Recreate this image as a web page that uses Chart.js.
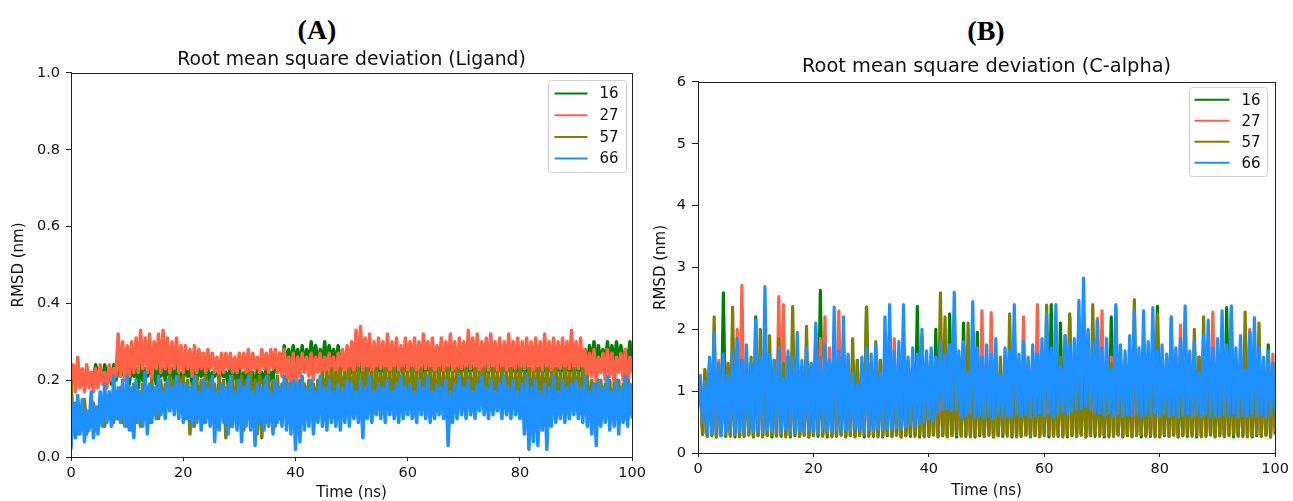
<!DOCTYPE html>
<html>
<head>
<meta charset="utf-8">
<title>RMSD</title>
<script src="https://cdn.jsdelivr.net/npm/chart.js@4.4.1/dist/chart.umd.min.js"></script>
<style>
  html, body { margin: 0; padding: 0; background: #fff; }
  body { width: 1293px; height: 501px; position: relative; overflow: hidden; }
  canvas { position: absolute; top: 0; }
  #chartA { left: 0; }
  #chartB { left: 646px; }
  .tag {
    position: absolute; transform: translate(-50%, -50%);
    font-family: "Liberation Serif", serif; font-weight: bold; font-size: 28px; line-height: 1;
    color: #000; white-space: nowrap;
  }
</style>
</head>
<body>
<div class="tag" style="left:317px; top:29.5px">(A)</div>
<div class="tag" style="left:986px; top:30.5px">(B)</div>
<canvas id="chartA" width="650" height="501"></canvas>
<canvas id="chartB" width="647" height="501"></canvas>
<script>
// frame times: one sample every 0.4 ns, 0 .. 100 ns
const timeNs = Array.from({ length: 251 }, (_, i) => i * 0.4);
const timeTicks = [0, 20, 40, 60, 80, 100];
const ligandTicks = [0, 0.2, 0.4, 0.6, 0.8, 1.0];
const calphaTicks = [0, 1, 2, 3, 4, 5, 6];

const seriesLabels = ['16', '27', '57', '66'];
const seriesColors = ['#008000', '#ff6347', '#808000', '#1e90ff'];

// (A) ligand RMSD, nm (one row = 10 ns)
const lig16 = [
  .20,.23,.19,.24,.20,.22,.19,.23,.21,.22,.20,.24,.21,.23,.20,.24,.21,.23,.19,.24,.20,.23,.21,.24,.20,
  .23,.19,.24,.21,.23,.18,.24,.20,.23,.21,.25,.20,.23,.19,.24,.21,.23,.20,.24,.21,.23,.19,.24,.20,.22,
  .20,.24,.21,.23,.19,.24,.20,.23,.21,.24,.20,.23,.19,.22,.21,.24,.20,.23,.21,.22,.19,.24,.20,.23,.19,
  .23,.18,.22,.17,.23,.19,.22,.16,.23,.19,.22,.18,.24,.19,.22,.20,.26,.22,.27,.23,.29,.24,.28,.23,.29,
  .24,.28,.23,.29,.24,.28,.23,.30,.25,.29,.24,.28,.23,.30,.24,.29,.25,.28,.23,.29,.24,.27,.22,.26,.21,
  .25,.21,.26,.22,.25,.20,.26,.21,.25,.22,.26,.21,.25,.22,.24,.21,.26,.22,.25,.21,.24,.22,.26,.21,.25,
  .22,.26,.21,.25,.22,.26,.20,.25,.22,.26,.21,.25,.22,.24,.21,.26,.22,.25,.21,.26,.22,.25,.21,.24,.22,
  .26,.21,.25,.22,.26,.21,.25,.22,.26,.20,.25,.22,.26,.21,.25,.22,.26,.21,.25,.22,.26,.21,.25,.22,.24,
  .21,.25,.22,.24,.21,.26,.22,.25,.21,.26,.22,.25,.21,.26,.22,.25,.21,.26,.22,.25,.21,.26,.22,.25,.21,
  .26,.22,.25,.21,.28,.23,.29,.24,.30,.23,.29,.24,.28,.23,.30,.24,.29,.23,.30,.24,.29,.23,.28,.24,.30,
  .24
];
const lig27 = [
  .18,.24,.17,.26,.18,.23,.17,.24,.18,.22,.17,.23,.18,.24,.19,.22,.18,.24,.20,.23,.21,.32,.21,.30,.20,
  .29,.21,.30,.22,.31,.22,.33,.23,.31,.22,.32,.20,.30,.23,.32,.22,.33,.23,.31,.22,.30,.23,.31,.22,.29,
  .22,.29,.23,.28,.21,.29,.22,.28,.23,.27,.22,.28,.23,.27,.22,.26,.21,.27,.22,.27,.23,.27,.22,.26,.22,
  .27,.23,.27,.22,.28,.21,.27,.23,.26,.22,.28,.23,.27,.22,.28,.23,.28,.22,.27,.21,.28,.20,.26,.17,.27,
  .16,.26,.21,.27,.22,.26,.21,.27,.20,.26,.22,.27,.21,.26,.22,.27,.21,.26,.18,.27,.22,.28,.21,.29,.22,
  .30,.22,.33,.23,.34,.22,.31,.23,.32,.21,.30,.22,.31,.23,.30,.22,.32,.21,.30,.23,.31,.22,.29,.23,.31,
  .22,.30,.23,.31,.21,.30,.22,.32,.23,.30,.22,.31,.21,.29,.23,.31,.22,.30,.23,.32,.22,.30,.21,.31,.23,
  .30,.22,.33,.23,.31,.22,.32,.21,.30,.23,.31,.22,.32,.23,.30,.22,.31,.23,.30,.22,.32,.21,.30,.23,.31,
  .22,.30,.23,.31,.22,.30,.21,.31,.23,.30,.22,.32,.23,.30,.22,.31,.21,.30,.23,.31,.22,.30,.23,.33,.22,
  .30,.23,.31,.22,.28,.20,.27,.21,.28,.19,.26,.22,.27,.20,.28,.21,.27,.19,.26,.22,.27,.20,.28,.17,.26,
  .22
];
const lig57 = [
  .20,.08,.14,.06,.13,.07,.15,.06,.12,.08,.14,.07,.13,.09,.15,.08,.14,.10,.15,.09,.16,.10,.18,.09,.17,
  .08,.18,.07,.19,.09,.17,.08,.19,.10,.18,.09,.20,.11,.18,.10,.20,.12,.19,.15,.21,.14,.20,.16,.21,.15,
  .21,.10,.20,.06,.19,.08,.21,.11,.20,.09,.21,.12,.20,.10,.19,.08,.21,.11,.20,.05,.19,.08,.21,.10,.20,
  .09,.21,.07,.20,.10,.22,.08,.20,.06,.21,.05,.20,.09,.21,.10,.20,.08,.21,.10,.19,.11,.20,.09,.19,.10,
  .19,.11,.20,.10,.19,.12,.20,.11,.19,.12,.20,.13,.22,.14,.22,.15,.23,.14,.22,.15,.23,.14,.22,.16,.23,
  .14,.22,.15,.23,.13,.22,.14,.23,.15,.22,.13,.23,.14,.22,.15,.23,.14,.22,.13,.23,.15,.22,.14,.23,.15,
  .22,.14,.23,.15,.22,.13,.23,.14,.22,.15,.23,.14,.22,.12,.23,.14,.22,.15,.23,.13,.22,.14,.23,.15,.22,
  .14,.23,.15,.22,.13,.23,.14,.22,.15,.23,.14,.22,.13,.23,.15,.22,.14,.23,.15,.22,.14,.23,.13,.22,.15,
  .23,.14,.22,.15,.23,.13,.22,.14,.23,.15,.22,.14,.23,.13,.22,.15,.23,.14,.22,.13,.23,.15,.22,.14,.23,
  .15,.22,.14,.23,.12,.21,.11,.20,.13,.19,.10,.20,.12,.19,.11,.20,.10,.19,.12,.20,.11,.19,.10,.20,.12,
  .19
];
const lig66 = [
  .02,.14,.05,.16,.06,.15,.04,.12,.07,.17,.05,.13,.06,.17,.08,.19,.09,.17,.08,.21,.10,.18,.09,.20,.08,
  .21,.07,.18,.05,.20,.09,.17,.08,.22,.06,.19,.09,.18,.10,.21,.11,.17,.10,.20,.12,.18,.11,.21,.10,.19,
  .09,.19,.10,.18,.08,.21,.09,.17,.07,.20,.09,.18,.08,.21,.04,.17,.07,.19,.09,.18,.06,.21,.08,.17,.07,
  .20,.04,.18,.08,.21,.07,.17,.03,.19,.09,.18,.07,.21,.08,.17,.06,.20,.09,.18,.08,.21,.07,.19,.06,.20,
  .02,.19,.04,.21,.07,.18,.08,.20,.06,.17,.09,.21,.08,.18,.07,.20,.09,.17,.08,.19,.07,.18,.09,.20,.08,
  .19,.10,.17,.09,.20,.05,.18,.10,.21,.09,.17,.11,.19,.10,.18,.09,.20,.11,.17,.10,.19,.09,.21,.10,.18,
  .11,.19,.10,.17,.09,.20,.11,.18,.10,.21,.09,.17,.10,.19,.11,.18,.10,.20,.03,.17,.09,.19,.10,.21,.11,
  .18,.10,.20,.11,.17,.10,.19,.12,.21,.11,.18,.10,.20,.11,.17,.12,.19,.10,.21,.11,.18,.10,.20,.11,.17,
  .10,.19,.06,.21,.02,.18,.04,.20,.03,.17,.07,.19,.02,.18,.08,.21,.09,.17,.10,.20,.09,.18,.10,.19,.11,
  .20,.10,.18,.09,.21,.08,.17,.06,.19,.03,.20,.08,.18,.09,.21,.07,.17,.08,.20,.06,.18,.09,.21,.08,.19,
  .10
];

// (B) C-alpha RMSD, nm (one row = 10 ns)
const ca16 = [
  .80,1.10,.30,1.30,.27,1.45,.28,1.20,.26,1.35,.28,2.59,.27,1.40,.29,1.25,.26,1.50,.28,2.30,.27,1.35,.29,1.45,.26,
  2.20,.28,1.30,.27,1.45,.29,1.25,.26,1.50,.28,1.90,.27,1.35,.29,1.40,.26,1.30,.28,1.55,.27,1.20,.29,1.45,.26,1.35,
  .28,2.00,.27,2.63,.29,1.40,.26,1.30,.28,1.55,.27,1.25,.29,1.40,.26,1.35,.28,1.50,.27,1.20,.29,1.45,.26,2.36,.28,
  1.40,.27,1.30,.29,1.50,.26,1.35,.28,1.95,.27,1.25,.29,1.40,.26,1.55,.28,1.30,.27,1.45,.29,2.37,.26,1.35,.28,1.50,
  .27,1.40,.29,2.00,.26,1.45,.28,1.30,.27,2.25,.29,1.40,.26,1.55,.28,2.10,.27,1.35,.29,1.45,.26,1.95,.28,1.30,.27,
  1.50,.29,1.35,.26,1.45,.28,1.30,.27,1.55,.29,1.40,.26,1.35,.28,1.50,.27,1.45,.29,1.30,.26,1.40,.28,1.55,.27,1.35,
  .29,1.45,.26,2.40,.28,1.35,.27,2.10,.29,1.50,.26,2.20,.28,1.40,.27,1.55,.29,1.45,.26,1.60,.28,1.40,.27,1.50,.29,
  1.35,.26,1.45,.28,2.20,.27,1.40,.29,1.30,.26,1.50,.28,1.35,.27,1.45,.29,1.55,.26,1.40,.28,1.35,.27,1.50,.29,2.37,
  .26,1.45,.28,1.35,.27,1.50,.29,1.40,.26,1.30,.28,2.10,.27,1.45,.29,1.35,.26,1.55,.28,1.40,.27,1.50,.29,1.35,.26,
  1.45,.28,1.30,.27,2.35,.29,1.40,.26,1.50,.28,1.35,.27,1.45,.29,1.95,.26,1.40,.28,1.55,.27,1.35,.29,1.75,.26,1.45,
  .30
];
const ca27 = [
  .85,1.20,.32,1.35,.29,1.40,.31,1.25,.28,1.50,.30,1.35,.32,1.45,.29,1.60,.31,2.00,.28,2.71,.30,1.45,.32,1.30,.29,
  1.50,.31,1.35,.28,1.45,.30,1.60,.32,1.40,.29,2.53,.31,2.40,.28,1.55,.30,1.35,.32,1.45,.29,1.30,.31,1.50,.28,1.40,
  .30,1.55,.32,1.85,.29,2.20,.31,1.70,.28,1.45,.30,2.30,.32,1.40,.29,1.55,.31,1.35,.28,1.50,.30,1.40,.32,1.30,.29,
  1.45,.31,1.35,.28,1.50,.30,1.40,.32,1.30,.29,1.85,.31,1.45,.28,1.55,.30,1.35,.32,1.50,.29,1.40,.31,1.90,.28,1.45,
  .30,1.60,.32,1.45,.29,1.55,.31,2.00,.28,1.40,.30,1.50,.32,1.35,.29,1.45,.31,1.55,.28,1.40,.30,1.50,.32,2.30,.29,
  1.45,.31,2.27,.28,1.50,.30,1.40,.32,1.55,.29,1.45,.31,1.35,.28,1.50,.30,2.20,.32,1.45,.29,1.55,.31,2.40,.28,1.40,
  .30,1.50,.32,1.45,.29,1.55,.31,1.40,.28,1.90,.30,1.50,.32,1.45,.29,1.60,.31,1.50,.28,1.45,.30,1.55,.32,2.18,.29,
  2.30,.31,1.45,.28,1.55,.30,1.40,.32,1.50,.29,1.45,.31,1.55,.28,1.40,.30,1.50,.32,1.45,.29,1.55,.31,1.40,.28,1.50,
  .30,1.45,.32,1.55,.29,2.20,.31,1.45,.28,2.07,.30,1.90,.32,1.50,.29,1.45,.31,1.55,.28,1.40,.30,1.50,.32,2.28,.29,
  1.45,.31,1.55,.28,1.40,.30,2.28,.32,1.50,.29,1.45,.31,1.55,.28,2.00,.30,1.45,.32,1.50,.29,1.40,.31,1.55,.28,1.60,
  .35
];
const ca57 = [
  .90,1.15,.30,1.35,.27,1.50,.29,2.20,.26,1.40,.28,1.55,.30,1.45,.27,2.36,.29,1.35,.26,1.50,.28,1.40,.30,1.55,.27,
  1.45,.29,2.00,.26,1.50,.28,1.90,.30,1.40,.27,1.85,.29,1.45,.26,1.55,.28,2.37,.30,1.50,.27,1.40,.29,2.05,.26,1.45,
  .28,1.50,.30,1.40,.27,1.55,.29,1.45,.26,1.50,.28,1.40,.30,1.55,.27,1.45,.29,1.85,.26,1.50,.28,1.40,.30,2.36,.27,
  1.45,.29,1.80,.26,1.50,.28,1.40,.30,1.90,.27,1.45,.29,1.55,.26,1.40,.28,1.50,.30,1.45,.27,1.55,.29,1.40,.26,1.50,
  .28,1.45,.30,1.55,.27,2.59,.29,2.20,.26,1.50,.28,1.40,.30,1.55,.27,1.45,.29,2.10,.26,1.50,.28,1.40,.30,1.55,.27,
  1.45,.29,1.50,.26,1.40,.28,1.55,.30,1.45,.27,2.25,.29,1.50,.26,1.40,.28,1.55,.30,1.45,.27,1.50,.29,1.40,.26,1.55,
  .28,2.39,.30,1.50,.27,1.40,.29,1.55,.26,1.45,.28,2.25,.30,1.50,.27,1.40,.29,1.55,.26,1.45,.28,2.40,.30,1.50,.27,
  1.40,.29,1.55,.26,1.45,.28,2.35,.30,1.50,.27,1.40,.29,1.55,.26,2.48,.28,1.45,.30,1.50,.27,1.40,.29,1.55,.26,2.25,
  .28,1.45,.30,1.50,.27,1.40,.29,1.55,.26,1.45,.28,1.50,.30,1.40,.27,2.00,.29,1.55,.26,2.20,.28,1.45,.30,1.50,.27,
  1.40,.29,1.55,.26,1.45,.28,1.50,.30,1.40,.27,1.55,.29,2.28,.26,1.45,.28,1.50,.30,2.10,.27,1.40,.29,1.55,.26,1.45,
  .40
];
const ca66 = [
  .75,1.25,.50,1.15,.32,1.55,.30,1.95,.35,1.45,.28,1.60,.33,1.25,.36,1.65,.31,1.85,.35,1.50,.33,1.75,.38,1.45,.34,
  2.15,.36,1.55,.33,2.69,.38,1.60,.35,1.50,.37,1.70,.34,1.20,.38,1.65,.35,1.55,.33,1.95,.36,1.50,.34,1.70,.37,1.45,
  .35,2.10,.33,1.55,.38,1.75,.36,1.50,.34,2.36,.37,1.65,.35,2.20,.38,1.60,.36,1.30,.39,1.10,.37,1.55,.35,1.70,.38,
  1.60,.36,1.75,.39,1.30,.37,2.20,.40,2.40,.38,1.65,.41,1.80,.39,2.40,.42,1.55,.45,1.70,.43,1.60,.48,2.00,.50,1.65,
  .55,1.70,.52,1.55,.66,1.80,.70,1.60,.72,1.75,.68,2.60,.70,1.65,.58,1.80,.60,1.30,.63,2.45,.58,1.70,.61,1.55,.57,
  1.75,.60,1.60,.56,1.85,.62,1.25,.58,1.70,.61,1.65,.57,2.40,.63,1.60,.59,1.80,.62,1.55,.58,1.75,.61,1.60,.64,1.85,
  .60,2.25,.63,1.70,.58,2.40,.62,1.40,.66,1.90,.63,1.75,.68,1.85,.70,2.47,.72,2.83,.75,2.00,.70,1.80,.66,2.15,.64,
  1.70,.61,1.85,.64,1.35,.60,2.40,.63,1.75,.59,1.65,.62,1.90,.60,2.30,.63,1.70,.58,2.30,.62,1.80,.60,2.35,.64,1.65,
  .60,1.75,.63,1.60,.59,2.20,.62,1.70,.58,1.85,.61,2.38,.63,1.65,.59,1.80,.62,1.30,.60,1.90,.63,2.15,.58,1.70,.61,
  1.85,.59,2.30,.62,1.75,.60,2.38,.63,1.70,.58,1.90,.61,1.35,.60,1.95,.63,2.19,.59,1.70,.62,1.55,.58,1.65,.62,1.45,
  .70
];

Chart.defaults.font.family = '"DejaVu Sans", sans-serif';
Chart.defaults.color = '#111';

// four spines like matplotlib, drawn over the data
const frame = {
  id: 'frame',
  afterDraw(chart) {
    const { ctx, chartArea: a } = chart;
    ctx.save();
    ctx.strokeStyle = '#222';
    ctx.lineWidth = 1;
    ctx.strokeRect(Math.round(a.left) + 0.5, Math.round(a.top) + 0.5,
      Math.round(a.right - a.left), Math.round(a.bottom - a.top));
    ctx.restore();
  }
};

// legend box in the upper right corner of the axes
const boxLegend = {
  id: 'boxLegend',
  afterDraw(chart, args, o) {
    const { ctx, chartArea } = chart;
    const x0 = Math.round(chartArea.right - o.right - o.width) + 0.5;
    const y0 = Math.round(chartArea.top + o.top) + 0.5;
    ctx.save();
    ctx.fillStyle = 'rgba(255,255,255,0.8)';
    ctx.strokeStyle = '#d0d0d0';
    ctx.lineWidth = 1;
    ctx.beginPath();
    if (ctx.roundRect) ctx.roundRect(x0, y0, o.width, o.height, 3);
    else ctx.rect(x0, y0, o.width, o.height);
    ctx.fill();
    ctx.stroke();
    ctx.font = '15px "DejaVu Sans"';
    ctx.textBaseline = 'middle';
    chart.data.datasets.forEach((ds, i) => {
      const y = y0 + o.first + i * o.gap;
      ctx.strokeStyle = ds.borderColor;
      ctx.lineWidth = 2;
      ctx.beginPath();
      ctx.moveTo(x0 + o.lineStart, y);
      ctx.lineTo(x0 + o.lineEnd, y);
      ctx.stroke();
      ctx.fillStyle = '#111';
      ctx.fillText(ds.label, x0 + o.textX, y + 1);
    });
    ctx.restore();
  }
};

function datasetsFor(seriesList, lineWidth) {
  return seriesList.map((values, i) => ({
    label: seriesLabels[i],
    data: values,
    borderColor: seriesColors[i],
    backgroundColor: seriesColors[i],
    borderWidth: lineWidth,   // thick enough to close the gaps between samples
    borderJoinStyle: 'round',
    pointRadius: 0,
    tension: 0,
    order: seriesList.length - 1 - i   // last series on top
  }));
}

function makePanel(canvasId, cfg) {
  return new Chart(document.getElementById(canvasId), {
    type: 'line',
    data: { labels: timeNs, datasets: datasetsFor(cfg.series, cfg.lineWidth) },
    options: {
      responsive: false,
      animation: false,
      devicePixelRatio: 1,
      layout: { padding: { left: 0, right: cfg.padRight, top: 0, bottom: 0 } },
      plugins: {
        legend: { display: false },
        tooltip: { enabled: false },
        title: {
          display: true, text: cfg.title, fullSize: false, color: '#111',
          font: { size: cfg.titleSize, weight: 'normal', lineHeight: 1.2 },
          padding: { top: cfg.titlePad[0], bottom: cfg.titlePad[1] }
        },
        boxLegend: cfg.legend
      },
      scales: {
        x: {
          type: 'linear', min: 0, max: 100,
          afterBuildTicks: s => { s.ticks = timeTicks.map(v => ({ value: v })); },
          afterFit: s => { s.height = cfg.xHeight; },
          ticks: { color: '#111', font: { size: 14.5 }, padding: 4, maxRotation: 0 },
          grid: { drawOnChartArea: false, tickLength: 4, tickColor: '#222' },
          border: { color: '#222' },
          title: {
            display: true, text: 'Time (ns)', color: '#111',
            font: { size: 15, lineHeight: 1 }, padding: { top: 0, bottom: cfg.xTitlePad }
          }
        },
        y: {
          min: 0, max: cfg.yMax,
          afterBuildTicks: s => { s.ticks = cfg.yTicks.map(v => ({ value: v })); },
          afterFit: s => { s.width = cfg.yWidth; },
          ticks: { color: '#111', font: { size: 14.5 }, padding: 6, callback: cfg.yFormat },
          grid: { drawOnChartArea: false, tickLength: cfg.yTickLen, tickColor: '#222' },
          border: { color: '#222' },
          title: {
            display: true, text: 'RMSD (nm)', color: '#111',
            font: { size: 15, lineHeight: 1 }, padding: { top: cfg.yTitlePad, bottom: 0 }
          }
        }
      }
    },
    plugins: [frame, boxLegend]
  });
}

makePanel('chartA', {
  series: [lig16, lig27, lig57, lig66], lineWidth: 3.5,
  title: 'Root mean square deviation (Ligand)',
  titleSize: 18.8, titlePad: [48.7, 1.7],
  padRight: 17, xHeight: 44, xTitlePad: 0,
  yWidth: 71, yTickLen: 5, yTitlePad: 11.5,
  yMax: 1, yTicks: ligandTicks, yFormat: v => v.toFixed(1),
  legend: { right: 6, top: 7, width: 78, height: 92, first: 13, gap: 21.7, lineStart: 6, lineEnd: 39, textX: 51 }
});

makePanel('chartB', {
  series: [ca16, ca27, ca57, ca66], lineWidth: 3.2,
  title: 'Root mean square deviation (C-alpha)',
  titleSize: 19.4, titlePad: [55.4, 3.3],
  padRight: 16, xHeight: 48, xTitlePad: 2.5,
  yWidth: 52, yTickLen: 6, yTitlePad: 8,
  yMax: 6, yTicks: calphaTicks, yFormat: v => String(v),
  legend: { right: 8, top: 5, width: 78, height: 89, first: 12.3, gap: 21, lineStart: 5, lineEnd: 40, textX: 52 }
});
</script>
</body>
</html>
